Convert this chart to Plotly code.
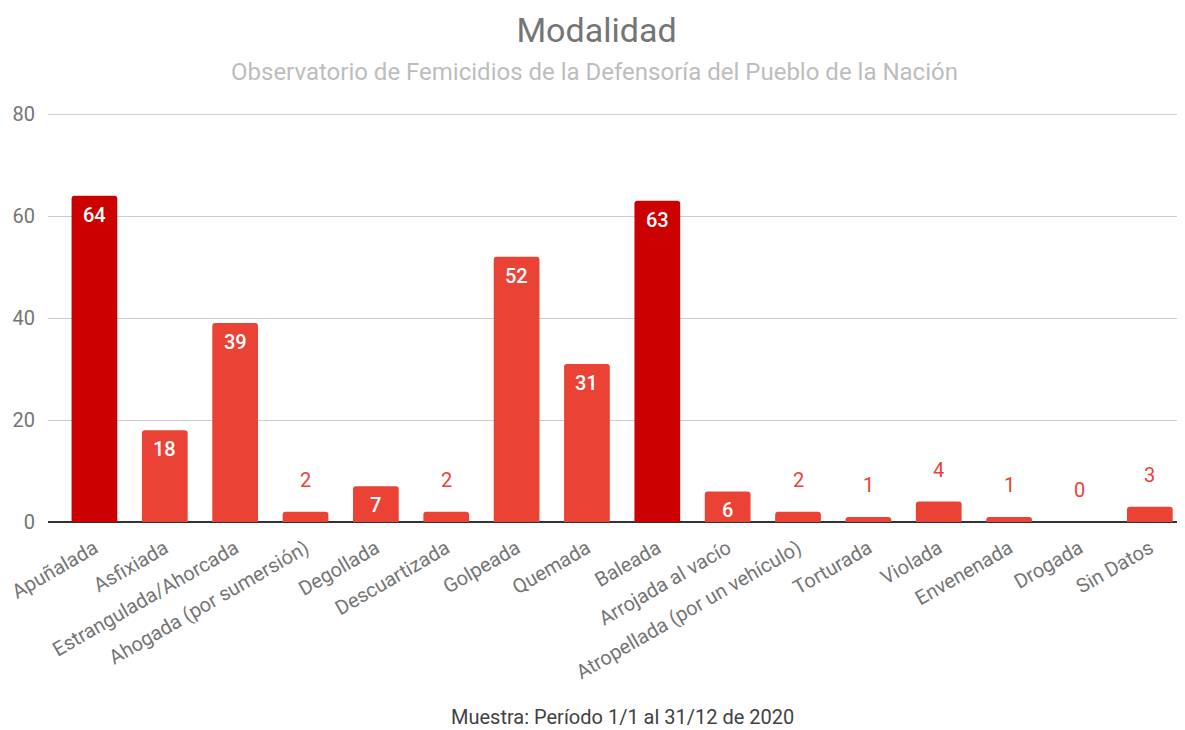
import plotly.graph_objects as go

categories = ["Apuñalada", "Asfixiada", "Estrangulada/Ahorcada", "Ahogada (por sumersión)",
              "Degollada", "Descuartizada", "Golpeada", "Quemada", "Baleada",
              "Arrojada al vacío", "Atropellada (por un vehículo)", "Torturada", "Violada",
              "Envenenada", "Drogada", "Sin Datos"]
values = [64, 18, 39, 2, 7, 2, 52, 31, 63, 6, 2, 1, 4, 1, 0, 3]
y_ticks = [0, 20, 40, 60, 80]

DARK = "#cc0000"
LIGHT = "#ea4335"
top_val = sorted(values, reverse=True)[1]
colors = [DARK if v >= top_val else LIGHT for v in values]
inside = [v >= 5 for v in values]

fig = go.Figure()
fig.add_trace(go.Bar(
    x=categories, y=values, marker=dict(color=colors, line=dict(width=0)),
    width=0.65, hoverinfo="x+y", showlegend=False,
))

annotations = []
for c, v, ins in zip(categories, values, inside):
    if ins:
        annotations.append(dict(x=c, y=v, text=str(v), showarrow=False, yanchor="top",
                                yshift=-5,
                                font=dict(color="white", size=20, family="Roboto", weight=500)))
    else:
        annotations.append(dict(x=c, y=v, text=str(v), showarrow=False, yanchor="bottom",
                                yshift=18, font=dict(color=LIGHT, size=20, family="Roboto")))

annotations += [
    dict(text="Observatorio de Femicidios de la Defensoría del Pueblo de la Nación",
         xref="paper", yref="paper", x=0.5, y=1, yshift=40, xshift=-22, xanchor="center",
         yanchor="middle", showarrow=False,
         font=dict(size=24, color="#bdbdbd", family="Roboto")),
    dict(text="Muestra: Período 1/1 al 31/12 de 2020", xref="paper", yref="paper",
         x=0.5, y=0, yshift=-195, xshift=6, xanchor="center", yanchor="middle",
         showarrow=False, font=dict(size=20, color="#424242", family="Roboto")),
]

fig.update_layout(
    width=1177, height=722,
    paper_bgcolor="white", plot_bgcolor="white",
    margin=dict(l=38, r=0, t=104, b=208),
    font=dict(family="Roboto", color="#757575"),
    title=dict(text="Modalidad", x=0.5, xanchor="center", y=1 - 22 / 722, yref="container",
               yanchor="middle", font=dict(size=34, color="#757575", family="Roboto")),
    barcornerradius=3,
    annotations=annotations,
)

fig.update_xaxes(range=[-0.66, 15.5], tickangle=-30, tickfont=dict(size=20, color="#757575"),
                 showgrid=False, showline=False, ticks="", zeroline=False,
                 ticklabelstandoff=10)
fig.update_yaxes(range=[0, 80.4], tickvals=y_ticks, tickfont=dict(size=20, color="#757575"),
                 showgrid=True, gridcolor="#cccccc", gridwidth=1, zeroline=True,
                 zerolinecolor="#333333", zerolinewidth=2, ticks="", ticklabelstandoff=12)

fig.write_html("out.html")
